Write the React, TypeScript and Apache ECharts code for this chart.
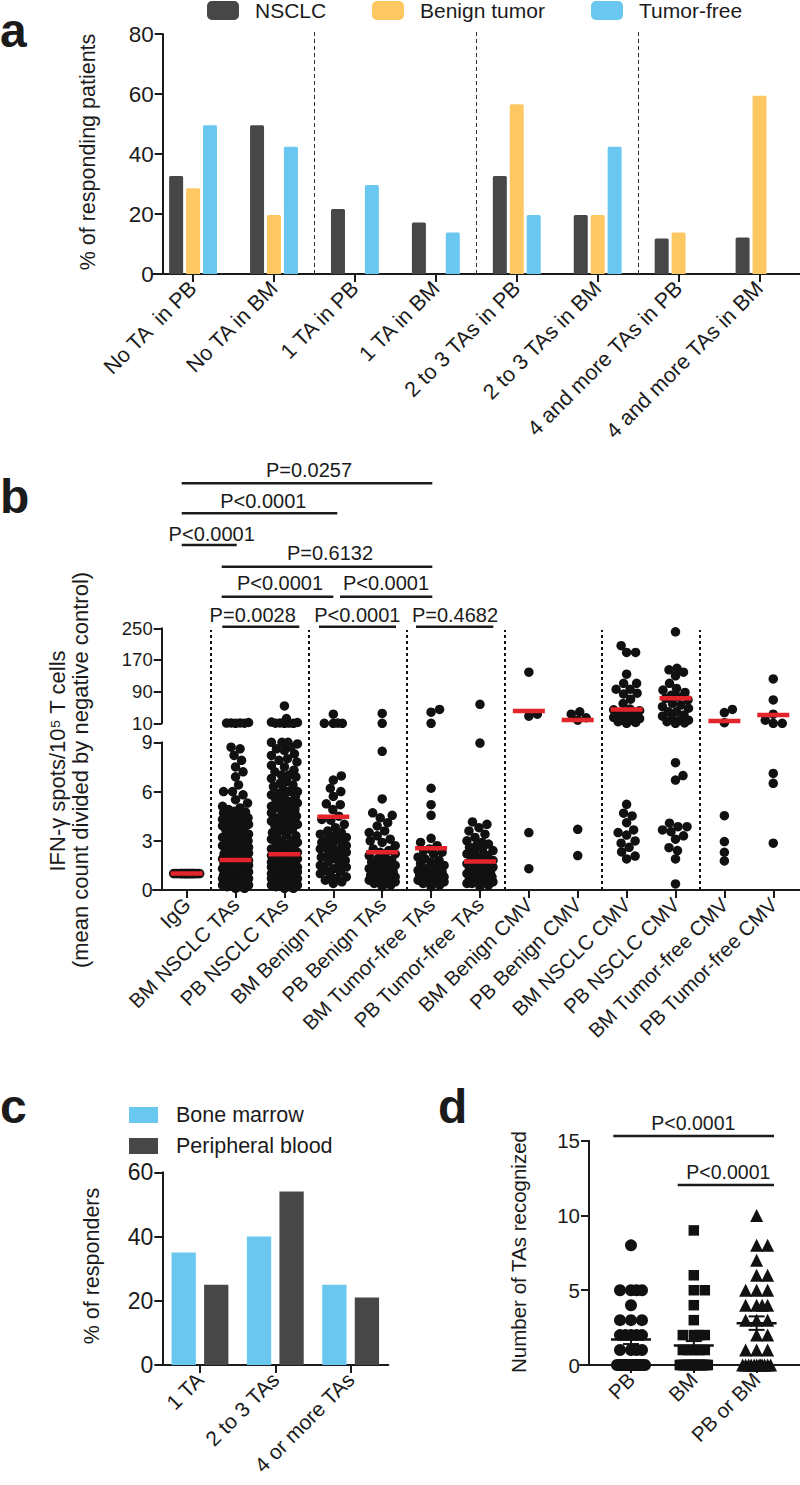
import React, { useEffect, useRef } from "react";
import * as echarts from "echarts";

const FONT = "'Liberation Sans', Arial, Helvetica, sans-serif";
const INK = "#1b1b1b";
const DARK = "#474747";
const YELLOW = "#FDC864";
const BLUE = "#6AC8F0";
const RED = "#E3242B";

// ---------------- Panel a ----------------
const aCategories = [
  "No TA  in PB",
  "No TA in BM",
  "1 TA in PB",
  "1 TA in BM",
  "2 to 3 TAs in PB",
  "2 to 3 TAs in BM",
  "4 and more TAs in PB",
  "4 and more TAs in BM",
];
const aNSCLC = [32.7, 49.6, 21.7, 17.2, 32.7, 19.7, 11.8, 12.2];
const aBenign = [28.6, 19.7, null, null, 56.6, 19.7, 13.8, 59.4];
const aTumorFree = [49.6, 42.4, 29.7, 13.8, 19.7, 42.4, null, null];
const aDividers = [1.5, 3.5, 5.5];

// ---------------- Panel b ----------------
const bCategories = [
  "IgG",
  "BM NSCLC TAs",
  "PB NSCLC TAs",
  "BM Benign TAs",
  "PB Benign TAs",
  "BM Tumor-free TAs",
  "PB Tumor-free TAs",
  "BM Benign CMV",
  "PB Benign CMV",
  "BM NSCLC CMV",
  "PB NSCLC CMV",
  "BM Tumor-free CMV",
  "PB Tumor-free CMV",
];
const bIgG = [1, 1, 1, 1, 1, 1, 1, 1, 1, 1, 1, 1, 1, 1, 1, 1, 1, 1, 1, 1];
const bBmNsclcTAs = [
  10, 10.5, 11, 10.2, 12, 10.8,
  8.7, 8.6, 8.2, 7.9, 7.5, 7.2, 6.9, 6.4, 6.0, 6.0, 5.8, 5.5, 5.3, 5.1, 5.0, 4.9, 4.8, 4.7,
  4.6, 4.5, 4.4, 4.3, 4.2, 4.1, 4.0, 3.9, 3.8, 3.7, 3.6, 3.5, 3.4, 3.3, 3.2, 3.1, 3.0, 2.9,
  2.8, 2.7, 2.6, 2.5, 2.5, 2.4, 2.3, 2.2, 2.2, 2.1, 2.0, 2.0, 1.9, 1.9, 1.8, 1.8, 1.7, 1.7,
  1.6, 1.6, 1.5, 1.5, 1.5, 1.4, 1.4, 1.3, 1.3, 1.3, 1.2, 1.2, 1.1, 1.1, 1.1, 1.0, 1.0, 1.0,
  0.9, 0.9, 0.9, 0.8, 0.8, 0.8, 0.7, 0.7, 0.7, 0.6, 0.6, 0.6, 0.5, 0.5, 0.5, 0.4, 0.4, 0.4,
  0.3, 0.3, 0.3, 0.2, 0.2, 0.1, 0.1, 4.75, 4.25, 3.75, 3.25, 2.75, 2.25, 1.75, 1.25, 0.75,
];
const bPbNsclcTAs = [
  54, 22, 12, 11, 10.5, 10, 10, 10.3, 13,
  9.0, 9.0, 9.0, 8.9, 8.7, 8.6, 8.5, 8.3, 8.2, 8.0, 7.9, 7.8, 7.6, 7.5, 7.3, 7.2, 7.0, 7.0,
  6.9, 6.8, 6.6, 6.5, 6.4, 6.3, 6.1, 6.0, 6.0, 5.9, 5.8, 5.7, 5.6, 5.5, 5.4, 5.3, 5.2, 5.1,
  5.0, 5.0, 4.9, 4.8, 4.7, 4.6, 4.5, 4.4, 4.3, 4.2, 4.1, 4.0, 4.0, 3.9, 3.8, 3.7, 3.6, 3.5,
  3.4, 3.3, 3.2, 3.1, 3.0, 3.0, 2.9, 2.8, 2.7, 2.6, 2.5, 2.5, 2.4, 2.3, 2.3, 2.2, 2.1, 2.1,
  2.0, 2.0, 1.9, 1.9, 1.8, 1.8, 1.7, 1.7, 1.6, 1.6, 1.5, 1.5, 1.4, 1.4, 1.4, 1.3, 1.3, 1.2,
  1.2, 1.2, 1.1, 1.1, 1.0, 1.0, 1.0, 0.9, 0.9, 0.9, 0.8, 0.8, 0.8, 0.7, 0.7, 0.7, 0.6, 0.6,
  0.6, 0.5, 0.5, 0.5, 0.4, 0.4, 0.4, 0.3, 0.3, 0.3, 0.2, 0.2, 0.1, 0.1,
];
const bBmBenignTAs = [
  10, 10, 10, 10.5, 33,
  6.95, 6.7, 6.2, 6.0, 5.7, 5.25, 5.2, 4.9, 4.5, 4.3, 4.25, 4.0, 3.8, 3.6, 3.5, 3.4, 3.3,
  3.2, 3.1, 3.0, 2.9, 2.8, 2.7, 2.6, 2.5, 2.5, 2.4, 2.3, 2.2, 2.1, 2.0, 1.9, 1.8, 1.7, 1.6,
  1.5, 1.4, 1.3, 1.2, 1.1, 1.0, 0.9, 0.8, 0.7, 0.6, 0.5, 0.4,
];
const bPbBenignTAs = [
  35, 10,
  8.45, 5.55, 4.7, 4.55, 4.4, 4.1, 3.9, 3.6, 3.5, 3.3, 3.1, 3.0, 2.9, 2.7, 2.5, 2.4, 2.3,
  2.2, 2.1, 2.0, 1.9, 1.8, 1.7, 1.6, 1.5, 1.5, 1.4, 1.3, 1.2, 1.1, 1.0, 1.0, 0.9, 0.9, 0.8,
  0.8, 0.7, 0.7, 0.6, 0.6, 0.5, 0.5, 0.4, 0.3, 0.2,
];
const bBmTfTAs = [
  38, 45, 10,
  6.2, 5.2, 4.55, 3.15, 2.9, 2.7, 2.5, 2.4, 2.3, 2.2, 2.0, 1.9, 1.8, 1.7, 1.6, 1.5, 1.4,
  1.3, 1.2, 1.2, 1.1, 1.0, 1.0, 0.9, 0.9, 0.8, 0.8, 0.7, 0.7, 0.6, 0.6, 0.5, 0.5, 0.4, 0.3,
  0.2,
];
const bPbTfTAs = [
  58,
  8.95, 4.15, 4.0, 3.8, 3.6, 3.4, 3.2, 3.0, 2.9, 2.8, 2.7, 2.6, 2.5, 2.4, 2.3, 2.2, 2.1,
  2.0, 1.9, 1.8, 1.7, 1.6, 1.6, 1.5, 1.5, 1.4, 1.4, 1.3, 1.3, 1.2, 1.2, 1.1, 1.1, 1.0, 1.0,
  0.9, 0.9, 0.8, 0.8, 0.7, 0.7, 0.6, 0.6, 0.5, 0.5, 0.4, 0.4, 0.3, 0.2,
];
const bBmBenignCMV = [139, 33, 28, 3.5, 1.3];
const bPbBenignCMV = [33, 18, 24, 39, 3.7, 2.1];
const bBmNsclcCMV = [
  206, 189, 189, 134, 96, 111, 111, 96, 71, 84, 86, 60, 44, 46, 42, 36, 31, 31, 25, 22, 18,
  18, 14, 12, 10,
  5.22, 4.68, 4.51, 4.1, 3.66, 3.5, 3.35, 2.99, 2.85, 2.6, 2.32, 2.07, 1.89,
];
const bPbNsclcCMV = [
  241, 149, 145, 139, 130, 111, 98, 94, 88, 81, 77, 73, 69, 60, 56, 52, 48, 39, 39, 31, 28,
  22, 18, 18, 14, 11, 10,
  7.76, 6.97, 6.7, 4.07, 3.86, 3.86, 3.66, 3.55, 3.3, 3.1, 2.58, 2.4, 1.89, 0.37,
];
const bBmTfCMV = [45, 37, 11.5, 4.53, 2.95, 2.3, 1.77];
const bPbTfCMV = [122, 69, 33, 18, 10, 10, 7.1, 6.5, 2.85];
const bColumns = [
  bIgG, bBmNsclcTAs, bPbNsclcTAs, bBmBenignTAs, bPbBenignTAs, bBmTfTAs, bPbTfTAs,
  bBmBenignCMV, bPbBenignCMV, bBmNsclcCMV, bPbNsclcCMV, bBmTfCMV, bPbTfCMV,
];
const bMeans = [1.0, 1.83, 2.18, 4.47, 2.3, 2.54, 1.73, 41, 18.3, 45, 73, 15.8, 31];
const bDividers = [0.5, 2.5, 4.5, 6.5, 8.5, 10.5];
const bLowerTicks = [0, 3, 6, 9];
const bUpperTicks = [10, 90, 170, 250];
const bPValues = [
  "P=0.0257", "P<0.0001", "P<0.0001", "P=0.6132", "P<0.0001",
  "P<0.0001", "P=0.0028", "P<0.0001", "P=0.4682",
];

// ---------------- Panel c ----------------
const cCategories = ["1 TA", "2 to 3 TAs", "4 or more TAs"];
const cBoneMarrow = [35, 40, 25];
const cPeripheral = [25, 54, 21];

// ---------------- Panel d ----------------
const dCategories = ["PB", "BM", "PB or BM"];
const dPB = [
  8, 5, 5, 5, 5, 4, 3, 3, 3, 2, 2, 2, 2, 2, 1, 1, 1, 1,
  0, 0, 0, 0, 0, 0, 0, 0, 0, 0, 0, 0, 0, 0, 0,
];
const dBM = [
  9, 6, 5, 5, 4, 3, 2, 2, 2, 2, 1, 1, 1, 1, 1,
  0, 0, 0, 0, 0, 0, 0, 0, 0, 0, 0, 0, 0, 0, 0, 0, 0, 0, 0, 0,
];
const dPBorBM = [
  10, 8, 8, 7, 6, 6, 5, 5, 5, 4, 4, 4, 4, 3, 3, 3, 2, 2, 1, 1, 1,
  0, 0, 0, 0, 0, 0, 0, 0, 0, 0, 0, 0,
];
const dMeans = [1.7, 1.3, 2.8];
const dSEM = [0.3, 0.3, 0.45];
const dPValues = ["P<0.0001", "P<0.0001"];

// ---------------- Layout (pixels) ----------------
const GA = { left: 152.6, top: 34, width: 650, height: 240 };
const GA_DIV = { left: 152.6, top: 30, width: 650, height: 244 };
const GB_UP = { left: 153, top: 628.3, width: 647, height: 95 };
const GB_LO = { left: 153, top: 742.3, width: 647, height: 147.7 };
const GB_DIV = { left: 153, top: 630, width: 647, height: 260 };
const B_XMIN = -0.689;
const B_XMAX = 12.547;
const B_LO_MAX = 9;
const B_UP_MIN = 10;
const B_UP_MAX = 250;
const GC = { left: 162.3, top: 1172.3, width: 226, height: 192.7 };
const GD = { left: 580, top: 1140.7, width: 220, height: 224.3 };
const D_XMIN = -0.812;
const D_XMAX = 2.691;
const D_YMAX = 15;

function swarmOffsets(values: number[], pxPerUnit: number, diameter: number, cap: number): number[] {
  const order = values.map((_, i) => i).sort((p, q) => values[p] - values[q]);
  const placed: { x: number; y: number }[] = [];
  const out: number[] = new Array(values.length).fill(0);
  const candidates: number[] = [0];
  for (let s = 0.5; s <= cap + 1e-9; s += 0.5) candidates.push(s, -s);
  for (const i of order) {
    const y = values[i] * pxPerUnit;
    let best = 0;
    let bestDist = -1;
    for (const c of candidates) {
      let minDist = Infinity;
      for (const p of placed) {
        const dy = p.y - y;
        if (Math.abs(dy) >= diameter) continue;
        const d = Math.hypot(p.x - c, dy);
        if (d < minDist) minDist = d;
      }
      if (minDist >= diameter) {
        best = c;
        bestDist = minDist;
        break;
      }
      if (minDist > bestDist) {
        bestDist = minDist;
        best = c;
      }
    }
    placed.push({ x: best, y });
    out[i] = best;
  }
  return out;
}

function buildOption() {
  const bPxPerX = GB_LO.width / (B_XMAX - B_XMIN);
  const bUpperPts: number[][] = [];
  const bLowerPts: number[][] = [];
  bColumns.forEach((col, i) => {
    const lo = col.filter((v) => v < B_UP_MIN);
    const up = col.filter((v) => v >= B_UP_MIN);
    const offLo = swarmOffsets(lo, GB_LO.height / B_LO_MAX, 8.6, 13);
    lo.forEach((v, k) => bLowerPts.push([i + offLo[k] / bPxPerX, v]));
    const offUp = swarmOffsets(up, GB_UP.height / (B_UP_MAX - B_UP_MIN), 8.6, 13);
    up.forEach((v, k) => bUpperPts.push([i + offUp[k] / bPxPerX, v]));
  });
  const bMeanLo = bMeans.map((m, i) => [i, m]).filter((p) => p[1] < B_UP_MIN);
  const bMeanUp = bMeans.map((m, i) => [i, m]).filter((p) => p[1] >= B_UP_MIN);

  const dPxPerX = GD.width / (D_XMAX - D_XMIN);
  const dPxPerY = GD.height / D_YMAX;
  const dSwarm = (vals: number[], idx: number) => {
    const off = swarmOffsets(vals, dPxPerY, 11, 14);
    return vals.map((v, k) => [idx + off[k] / dPxPerX, v]);
  };

  const axisLine = { show: true, onZero: false, lineStyle: { color: INK, width: 2 } };
  const axisTick = { show: true, length: 8, lineStyle: { color: INK, width: 2 } };
  const lbl = (size: number) => ({ color: INK, fontSize: size, fontFamily: FONT });
  const hiddenX = (gridIndex: number, min: number, max: number) => ({
    type: "value", gridIndex, min, max, show: false, splitLine: { show: false },
    axisLine: { show: false, onZero: false },
  });
  const hiddenY = (gridIndex: number) => ({
    type: "value", gridIndex, min: 0, max: 1, show: false, splitLine: { show: false },
    axisLine: { show: false, onZero: false },
  });

  const txt = (text: string, x: number, y: number, size: number, opts: any = {}) => ({
    type: "text",
    x,
    y,
    rotation: opts.rotation || 0,
    style: {
      text,
      fill: INK,
      fontSize: size,
      fontFamily: FONT,
      fontWeight: opts.bold ? "bold" : "normal",
      align: opts.align || "center",
      textAlign: opts.align || "center",
      verticalAlign: "middle",
      textVerticalAlign: "middle",
    },
  });
  const seg = (x1: number, x2: number, y: number, w = 2.5) => ({
    type: "line",
    shape: { x1, y1: y, x2, y2: y },
    style: { stroke: INK, lineWidth: w },
  });

  const bBracketText = [
    [309, 470], [263.3, 500.7], [211.7, 534], [330, 552.7], [280, 582.7],
    [386, 582.7], [252.7, 615], [357.3, 615], [455, 615],
  ];
  const bBracketLine = [
    [181.7, 432.3, 483.3], [181.7, 337.3, 513.3], [181.7, 236.7, 545],
    [221.7, 432.3, 566.7], [221.7, 333.3, 596.7], [340, 432.3, 596.7],
    [222.3, 299.3, 626.7], [319, 396, 626.7], [416, 493.3, 626.7],
  ];
  const dBracketText = [[693.3, 1122.7], [728.3, 1171.7]];
  const dBracketLine = [[613.3, 774, 1136], [677.7, 774, 1185]];

  const graphics: any[] = [
    txt("a", 0, 30, 48, { bold: true, align: "left" }),
    txt("b", 0, 496, 48, { bold: true, align: "left" }),
    txt("c", 0, 1106, 48, { bold: true, align: "left" }),
    txt("d", 438, 1106, 48, { bold: true, align: "left" }),
    txt("% of responding patients", 87.5, 152, 21.5, { rotation: Math.PI / 2 }),
    txt("IFN-γ spots/10⁵ T cells", 57, 761, 22, { rotation: Math.PI / 2 }),
    txt("(mean count divided by negative control)", 80, 770, 22, { rotation: Math.PI / 2 }),
    txt("% of responders", 92, 1266, 21.5, { rotation: Math.PI / 2 }),
    txt("Number of TAs recognized", 518.3, 1252, 20.5, { rotation: Math.PI / 2 }),
    seg(155, 163, 1365, 2),
    seg(153, 162, 274, 2),
  ];
  bPValues.forEach((p, i) => {
    graphics.push(txt(p, bBracketText[i][0], bBracketText[i][1], 20));
    graphics.push(seg(bBracketLine[i][0], bBracketLine[i][1], bBracketLine[i][2]));
  });
  dPValues.forEach((p, i) => {
    graphics.push(txt(p, dBracketText[i][0], dBracketText[i][1], 19.5));
    graphics.push(seg(dBracketLine[i][0], dBracketLine[i][1], dBracketLine[i][2]));
  });

  const legendItem = (name: string, left: number, top: number, w: number, h: number, icon: string, pad: number, size: number) => ({
    data: [name],
    left,
    top,
    padding: 0,
    icon,
    itemWidth: w,
    itemHeight: h,
    selectedMode: false,
    textStyle: { color: INK, fontSize: size, fontFamily: FONT, padding: [0, 0, 0, pad] },
  });

  return {
    animation: false,
    backgroundColor: "#ffffff",
    textStyle: { fontFamily: FONT },
    legend: [
      legendItem("NSCLC", 207, 0, 32, 19, "roundRect", 11, 21),
      legendItem("Benign tumor", 372, 0, 32, 19, "roundRect", 11, 21),
      legendItem("Tumor-free", 591, 0, 32, 19, "roundRect", 11, 21),
      legendItem("Bone marrow", 129, 1104, 29, 16, "rect", 13, 21.5),
      legendItem("Peripheral blood", 129, 1135, 29, 16, "rect", 13, 21.5),
    ],
    grid: [GA, GA_DIV, GB_UP, GB_LO, GB_DIV, GC, GD].map((g) => ({ ...g, containLabel: false })),
    xAxis: [
      {
        type: "category",
        gridIndex: 0,
        data: aCategories,
        axisLine,
        axisTick: { ...axisTick, alignWithLabel: true },
        axisLabel: { ...lbl(21.5), rotate: 45, margin: 11, interval: 0 },
        splitLine: { show: false },
      },
      hiddenX(1, -0.5, 7.5),
      hiddenX(2, B_XMIN, B_XMAX),
      {
        type: "value",
        gridIndex: 3,
        min: B_XMIN,
        max: B_XMAX,
        axisLine,
        axisTick: { ...axisTick, customValues: bCategories.map((_, i) => i) },
        axisLabel: {
          ...lbl(20.5),
          rotate: 45,
          margin: 11,
          customValues: bCategories.map((_, i) => i),
          formatter: (v: number) => bCategories[Math.round(v)] ?? "",
        },
        splitLine: { show: false },
      },
      hiddenX(4, B_XMIN, B_XMAX),
      {
        type: "category",
        gridIndex: 5,
        data: cCategories,
        axisLine,
        axisTick: { ...axisTick, alignWithLabel: true },
        axisLabel: { ...lbl(21), rotate: 45, margin: 11, interval: 0 },
        splitLine: { show: false },
      },
      {
        type: "value",
        gridIndex: 6,
        min: D_XMIN,
        max: D_XMAX,
        axisLine,
        axisTick: { ...axisTick, customValues: dCategories.map((_, i) => i) },
        axisLabel: {
          ...lbl(20.5),
          rotate: 45,
          margin: 11,
          customValues: dCategories.map((_, i) => i),
          formatter: (v: number) => dCategories[Math.round(v)] ?? "",
        },
        splitLine: { show: false },
      },
    ],
    yAxis: [
      {
        type: "value", gridIndex: 0, min: 0, max: 80, interval: 20, offset: -10.1,
        axisLine, axisTick, axisLabel: { ...lbl(22.5), margin: 9 }, splitLine: { show: false },
      },
      hiddenY(1),
      {
        type: "value", gridIndex: 2, min: B_UP_MIN, max: B_UP_MAX, offset: -8.7,
        axisLine,
        axisTick: { ...axisTick, customValues: bUpperTicks },
        axisLabel: { ...lbl(18.5), margin: 9, customValues: bUpperTicks },
        splitLine: { show: false },
      },
      {
        type: "value", gridIndex: 3, min: 0, max: B_LO_MAX, offset: -8.7,
        axisLine,
        axisTick: { ...axisTick, customValues: bLowerTicks },
        axisLabel: { ...lbl(19.5), margin: 9, customValues: bLowerTicks },
        splitLine: { show: false },
      },
      hiddenY(4),
      {
        type: "value", gridIndex: 5, min: 0, max: 60, interval: 20,
        axisLine, axisTick, axisLabel: { ...lbl(23), margin: 9 }, splitLine: { show: false },
      },
      {
        type: "value", gridIndex: 6, min: 0, max: D_YMAX, interval: 5, offset: -9,
        axisLine, axisTick, axisLabel: { ...lbl(20.5), margin: 9 }, splitLine: { show: false },
      },
    ],
    graphic: { elements: graphics },
    series: [
      // ---- a ----
      {
        type: "bar", name: "NSCLC", xAxisIndex: 0, yAxisIndex: 0, data: aNSCLC,
        barWidth: 14, barGap: "21%", itemStyle: { color: DARK, borderRadius: [1.5, 1.5, 0, 0] },
      },
      {
        type: "bar", name: "Benign tumor", xAxisIndex: 0, yAxisIndex: 0, data: aBenign,
        barWidth: 14, barGap: "21%", itemStyle: { color: YELLOW, borderRadius: [1.5, 1.5, 0, 0] },
      },
      {
        type: "bar", name: "Tumor-free", xAxisIndex: 0, yAxisIndex: 0, data: aTumorFree,
        barWidth: 14, barGap: "21%", itemStyle: { color: BLUE, borderRadius: [1.5, 1.5, 0, 0] },
      },
      {
        type: "line", xAxisIndex: 1, yAxisIndex: 1, data: [],
        markLine: {
          silent: true, symbol: ["none", "none"], label: { show: false },
          lineStyle: { color: "#333", width: 1, type: [4, 3] },
          data: aDividers.map((v) => ({ xAxis: v })),
        },
      },
      // ---- b ----
      {
        type: "line", xAxisIndex: 4, yAxisIndex: 4, data: [],
        markLine: {
          silent: true, symbol: ["none", "none"], label: { show: false },
          lineStyle: { color: "#111", width: 2, type: [3, 3] },
          data: bDividers.map((v) => ({ xAxis: v })),
        },
      },
      {
        type: "scatter", xAxisIndex: 2, yAxisIndex: 2, data: bUpperPts, symbolSize: 9.5,
        itemStyle: { color: "#111", opacity: 1 }, clip: false,
      },
      {
        type: "scatter", xAxisIndex: 3, yAxisIndex: 3, data: bLowerPts, symbolSize: 9.5,
        itemStyle: { color: "#111", opacity: 1 }, clip: false,
      },
      {
        type: "scatter", xAxisIndex: 2, yAxisIndex: 2, data: bMeanUp, symbol: "rect",
        symbolSize: [32, 4.5], itemStyle: { color: RED, opacity: 1 }, z: 5, clip: false,
      },
      {
        type: "scatter", xAxisIndex: 3, yAxisIndex: 3, data: bMeanLo, symbol: "rect",
        symbolSize: [32, 4.5], itemStyle: { color: RED, opacity: 1 }, z: 5, clip: false,
      },
      // ---- c ----
      {
        type: "bar", name: "Bone marrow", xAxisIndex: 5, yAxisIndex: 5, data: cBoneMarrow,
        barWidth: 24.3, barGap: "34%", itemStyle: { color: BLUE },
      },
      {
        type: "bar", name: "Peripheral blood", xAxisIndex: 5, yAxisIndex: 5, data: cPeripheral,
        barWidth: 24.3, barGap: "34%", itemStyle: { color: DARK },
      },
      // ---- d ----
      {
        type: "scatter", xAxisIndex: 6, yAxisIndex: 6, data: dSwarm(dPB, 0), symbol: "circle",
        symbolSize: 12, itemStyle: { color: "#111", opacity: 1 }, clip: false,
      },
      {
        type: "scatter", xAxisIndex: 6, yAxisIndex: 6, data: dSwarm(dBM, 1), symbol: "rect",
        symbolSize: 10.5, itemStyle: { color: "#111", opacity: 1 }, clip: false,
      },
      {
        type: "scatter", xAxisIndex: 6, yAxisIndex: 6, data: dSwarm(dPBorBM, 2), symbol: "triangle",
        symbolSize: 13, itemStyle: { color: "#111", opacity: 1 }, clip: false,
      },
      {
        type: "scatter", xAxisIndex: 6, yAxisIndex: 6, data: dMeans.map((m, i) => [i, m]),
        symbol: "rect", symbolSize: [40, 2.5], itemStyle: { color: "#111", opacity: 1 }, z: 5, clip: false,
      },
      {
        type: "scatter", xAxisIndex: 6, yAxisIndex: 6,
        data: dMeans.map((m, i) => [i, m, dSEM[i]]),
        symbol: "rect",
        symbolSize: (val: number[]) => [2, val[2] * 2 * dPxPerY],
        itemStyle: { color: "#111", opacity: 1 }, z: 5, clip: false,
      },
      {
        type: "scatter", xAxisIndex: 6, yAxisIndex: 6,
        data: dMeans.flatMap((m, i) => [[i, m - dSEM[i]], [i, m + dSEM[i]]]),
        symbol: "rect", symbolSize: [16, 2], itemStyle: { color: "#111", opacity: 1 }, z: 5, clip: false,
      },
    ],
  };
}

export default function App() {
  const ref = useRef<HTMLDivElement>(null);
  useEffect(() => {
    if (!ref.current) return;
    const chart = echarts.init(ref.current, undefined, { renderer: "svg" });
    chart.setOption(buildOption() as any);
    return () => chart.dispose();
  }, []);
  return (
    <div
      ref={ref}
      style={{ position: "absolute", left: 0, top: 0, width: 800, height: 1485, background: "#fff" }}
    />
  );
}
